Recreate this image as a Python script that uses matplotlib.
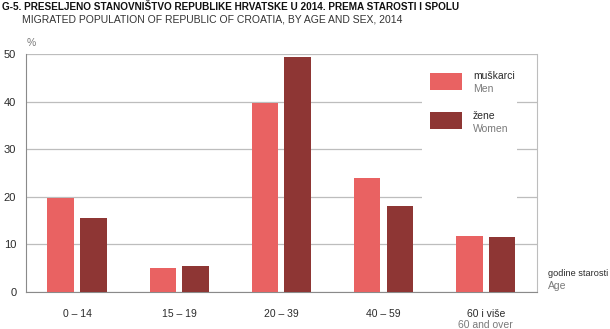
import numpy as np
import matplotlib
matplotlib.use('Agg')
import matplotlib.pyplot as plt
from matplotlib.patches import Rectangle

# podaci
grupe = ['0 – 14', '15 – 19', '20 – 39', '40 – 59', '60 i više']
muskarci = [19.7, 5.0, 39.6, 24.0, 11.7]
zene = [15.5, 5.4, 49.3, 18.0, 11.6]
yticks = [0, 10, 20, 30, 40, 50]

c_m = '#E96262'
c_z = '#8E3634'
c_grid = '#BDBDBD'
c_dark = '#2B2B2B'
c_grey = '#7A7A7A'

plt.rcParams['font.family'] = ['Liberation Sans', 'DejaVu Sans']

fig = plt.figure(figsize=(6.1, 3.29), dpi=100)
ax = fig.add_axes([0.0426, 0.1125, 0.8374, 0.7234])


def fit(t, width_px):
    # smanji font da tekst stane u zadanu sirinu
    r = fig.canvas.get_renderer()
    w = t.get_window_extent(r).width
    t.set_fontsize(t.get_fontsize() * width_px / w)


x = np.arange(len(grupe))
ax.bar(x - 0.16, muskarci, 0.26, color=c_m, zorder=3)
ax.bar(x + 0.16, zene, 0.26, color=c_z, zorder=3)

ax.set_xlim(-0.5, len(grupe) - 0.5)
ax.set_ylim(0, 50)
ax.set_yticks(yticks)
ax.set_yticklabels([str(t) for t in yticks], fontsize=8, color=c_dark)
ax.yaxis.grid(True, color=c_grid, lw=0.9, zorder=0)
ax.tick_params(axis='y', length=0, pad=7)
ax.tick_params(axis='x', length=0, pad=12)
ax.set_xticks(x)
ax.set_xticklabels(grupe, fontsize=7.5, color=c_dark)

ax.spines['top'].set_visible(False)
ax.spines['right'].set_color(c_grid)
ax.spines['left'].set_color('#8A8A8A')
ax.spines['bottom'].set_color('#8A8A8A')

# legenda (bijela podloga preko mreze)
ax.add_patch(Rectangle((0.775, 0.38), 0.186, 0.55, transform=ax.transAxes,
                       facecolor='white', edgecolor='none', zorder=2))
fig.patches.append(Rectangle((430 / 610, 1 - 90 / 329), 32 / 610, 17 / 329,
                             transform=fig.transFigure, facecolor=c_m, zorder=5))
fig.patches.append(Rectangle((430 / 610, 1 - 129 / 329), 32 / 610, 17 / 329,
                             transform=fig.transFigure, facecolor=c_z, zorder=5))
fig.text(473 / 610, 1 - 76 / 329, 'muškarci', fontsize=7.5, color=c_dark, va='center')
fig.text(473 / 610, 1 - 89 / 329, 'Men', fontsize=7.5, color=c_grey, va='center')
fig.text(473 / 610, 1 - 116 / 329, 'žene', fontsize=7.5, color=c_dark, va='center')
fig.text(473 / 610, 1 - 129 / 329, 'Women', fontsize=7.5, color=c_grey, va='center')

# naslovi
fig.text(2 / 610, 1 - 7 / 329,
         'G-5. PRESELJENO STANOVNIŠTVO REPUBLIKE HRVATSKE U 2014. PREMA STAROSTI I SPOLU',
         fontsize=7.2, fontweight='bold', color='#111111', va='center')
fig.text(22 / 610, 1 - 20 / 329,
         'MIGRATED POPULATION OF REPUBLIC OF CROATIA, BY AGE AND SEX, 2014',
         fontsize=7.5, color='#333333', va='center')
fig.text(27 / 610, 1 - 43 / 329, '%', fontsize=7.5, color=c_grey, va='center')

fig.text(485 / 610, 1 - 325 / 329, '60 and over', fontsize=7.5, color=c_grey,
         va='center', ha='center')
t3 = fig.text(548 / 610, 1 - 273 / 329, 'godine starosti', fontsize=8, color=c_dark,
              va='center')
fit(t3, 60)
fig.text(548 / 610, 1 - 286 / 329, 'Age', fontsize=7.5, color=c_grey, va='center')

fig.savefig('out.png', dpi=100)
